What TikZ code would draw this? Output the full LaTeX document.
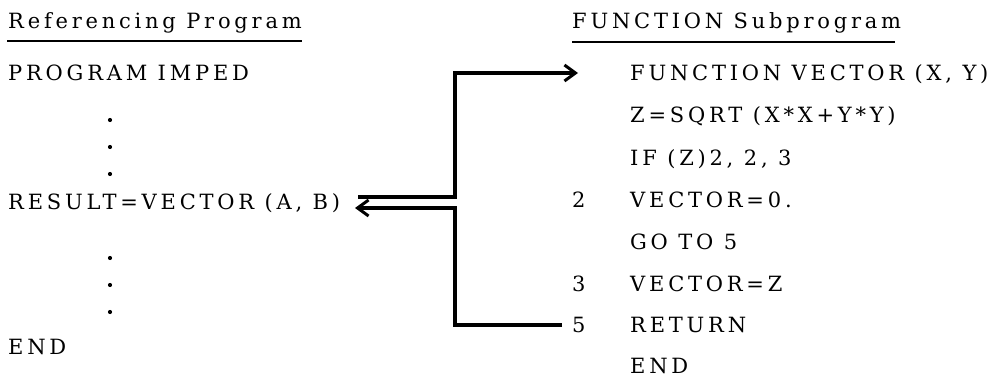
\documentclass[tikz,border=0pt]{standalone}
\usepackage{fontspec}
\setmainfont{DejaVu Serif}[LetterSpace=18]
\usetikzlibrary{arrows.meta}
\begin{document}
\begin{tikzpicture}[x=1pt,y=-1pt,
  txt/.style={anchor=base west, inner sep=0pt, font=\fontsize{21}{25}\selectfont},
  dotn/.style={circle, fill=black, inner sep=0pt, minimum size=4.2pt},
  conn/.style={line width=3.1pt, line join=miter},
  uline/.style={line width=2pt},
  tip/.style={-{Straight Barb[length=11pt,width=16pt,line width=3pt]}}]
\useasboundingbox (0,0) rectangle (995,377);

% left column
\node[txt] (lhead) at (8,29) {Referencing Program};
\draw[uline] (7,41) -- (302,41);
\node[txt] (prog) at (8,81) {PROGRAM IMPED};
\node[dotn] (d1) at (110,120) {};
\node[dotn] (d2) at (110,147) {};
\node[dotn] (d3) at (110,174) {};
\node[txt] (res) at (8,209) {RESULT=VECTOR (A, B)};
\node[dotn] (d4) at (110,258) {};
\node[dotn] (d5) at (110,285) {};
\node[dotn] (d6) at (110,312) {};
\node[txt] (lend) at (8,354) {END};

% right column
\node[txt] (rhead) at (572,29) {FUNCTION Subprogram};
\draw[uline] (572,42) -- (895,42);
\node[txt] (s1) at (630,81) {FUNCTION VECTOR (X, Y)};
\node[txt] (s2) at (630,123) {Z=SQRT (X*X+Y*Y)};
\node[txt] (s3) at (630,165) {IF (Z)2, 2, 3};
\node[txt] (n2) at (572,207) {2};
\node[txt] (s4) at (630,207) {VECTOR=0.};
\node[txt] (s5) at (630,249) {GO TO 5};
\node[txt] (n3) at (572,291) {3};
\node[txt] (s6) at (630,291) {VECTOR=Z};
\node[txt] (n5) at (572,332) {5};
\node[txt] (s7) at (630,332) {RETURN};
\node[txt] (s8) at (630,373) {END};

% connectors
\coordinate (ja) at (455,197);
\coordinate (jb) at (455,208);
\coordinate (fin) at (578,73);
\coordinate (retout) at (562,325);
\path (358,0) coordinate (ra);
\path (355,0) coordinate (rb);
\draw[conn,tip] (ra |- ja) -- (ja) |- (fin);
\draw[conn,tip] (retout) -| (jb) -- (rb |- jb);
\end{tikzpicture}
\end{document}
